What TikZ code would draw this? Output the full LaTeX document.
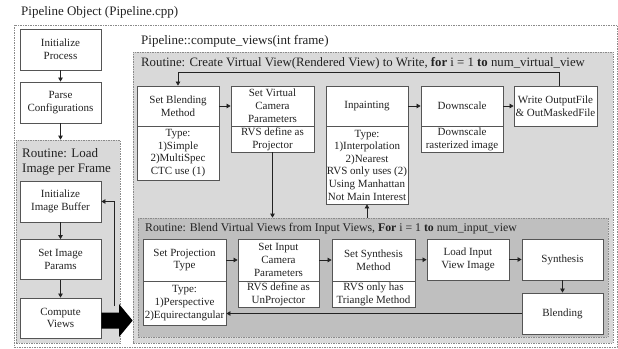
\documentclass[tikz,border=0pt]{standalone}
\usepackage{fontspec}
\setmainfont{Liberation Serif}
\usetikzlibrary{arrows.meta}
\definecolor{lgray}{HTML}{D9D9D9}
\definecolor{dgray}{HTML}{BFBFBF}
\definecolor{edge}{HTML}{555555}
\definecolor{txt}{HTML}{222222}
\definecolor{dash}{HTML}{8A8A8A}
\begin{document}
\begin{tikzpicture}[x=1pt,y=-1pt,
 box/.style={draw=edge, fill=white, line width=0.8pt, align=center, inner sep=1pt, font=\fontsize{11}{12.8}\selectfont, text=txt},
 routine/.style={draw=dash, dash pattern=on 1.5pt off 1pt, line width=0.7pt},
 ttl/.style={anchor=west, font=\fontsize{13}{15}\selectfont, text=txt, inner sep=0pt},
 arr/.style={draw=txt, line width=0.7pt, -{Triangle[length=4pt,width=4.5pt]}},
 ln/.style={draw=txt, line width=0.7pt}]
\useasboundingbox (0,0) rectangle (618,348);
% containers
\node[routine, fill=white, minimum width=603pt, minimum height=322pt, inner sep=0pt] (outer) at (315.5,186) {};
\node[routine, fill=lgray, minimum width=104pt, minimum height=203pt, inner sep=0pt] (loadr) at (68,241.5) {};
\node[routine, fill=lgray, minimum width=480pt, minimum height=291pt, inner sep=0pt] (createv) at (373,197.5) {};
\node[routine, fill=dgray, minimum width=470pt, minimum height=119pt, inner sep=0pt] (blendr) at (373,277.5) {};
% titles
\node[ttl] (t1) at (21,12) {Pipeline Object (Pipeline.cpp)};
\node[ttl] (t2) at (141,41) {Pipeline::compute\_views(int frame)};
\node[ttl, font=\fontsize{12.8}{15}\selectfont] (t3) at (141,63) {Routine: Create Virtual View(Rendered View) to Write, \textbf{for} i = 1 \textbf{to} num\_virtual\_view};
\node[ttl] (t4) at (22,153) {Routine: Load};
\node[ttl] (t5) at (22,170) {Image per Frame};
\node[ttl, font=\fontsize{11.8}{15}\selectfont] (t6) at (145,229) {Routine: Blend Virtual Views from Input Views, \textbf{For} i = 1 \textbf{to} num\_input\_view};
% left column
\node[box, minimum width=81pt, minimum height=41pt] (init) at (60.5,49.5) {Initialize\\Process};
\node[box, minimum width=81pt, minimum height=41pt] (parse) at (60.5,102.5) {Parse\\Configurations};
\node[box, minimum width=81pt, minimum height=41pt] (ibuf) at (60.5,201.5) {Initialize\\Image Buffer};
\node[box, minimum width=81pt, minimum height=40pt] (ipar) at (60.5,259.5) {Set Image\\Params};
\node[box, minimum width=81pt, minimum height=40pt] (cview) at (60.5,318) {Compute\\Views};
% upper row
\node[box, minimum width=82pt, minimum height=40pt] (blT) at (178,106) {Set Blending\\Method};
\node[box, minimum width=82pt, minimum height=54pt] (blB) at (178,153) {Type:\\1)Simple\\2)MultiSpec\\CTC use (1)};
\node[box, minimum width=83pt, minimum height=40pt] (vcT) at (272.5,106) {Set Virtual\\Camera\\Parameters};
\node[box, minimum width=83pt, minimum height=26pt] (vcB) at (272.5,139) {RVS define as\\Projector};
\node[box, minimum width=82pt, minimum height=40pt] (inT) at (367,106) {Inpainting};
\node[box, minimum width=82pt, minimum height=78pt, font=\fontsize{11}{12.6}\selectfont] (inB) at (367,165) {Type:\\1)Interpolation\\2)Nearest\\RVS only uses (2)\\Using Manhattan\\Not Main Interest};
\node[box, minimum width=82pt, minimum height=40pt] (dsT) at (462,106) {Downscale};
\node[box, minimum width=82pt, minimum height=26pt] (dsB) at (462,139) {Downscale\\rasterized image};
\node[box, minimum width=83pt, minimum height=40pt] (wr) at (555.5,106) {Write OutputFile\\\& OutMaskedFile};
% lower row
\node[box, minimum width=83pt, minimum height=42pt] (prT) at (184.5,260) {Set Projection\\Type};
\node[box, minimum width=83pt, minimum height=44pt] (prB) at (184.5,303) {Type:\\1)Perspective\\2)Equirectangular};
\node[box, minimum width=81pt, minimum height=42pt] (icT) at (278.5,260) {Set Input\\Camera\\Parameters};
\node[box, minimum width=81pt, minimum height=26pt] (icB) at (278.5,294) {RVS define as\\UnProjector};
\node[box, minimum width=83pt, minimum height=42pt] (smT) at (373.5,260) {Set Synthesis\\Method};
\node[box, minimum width=83pt, minimum height=26pt] (smB) at (373.5,294) {RVS only has\\Triangle Method};
\node[box, minimum width=82pt, minimum height=41pt] (li) at (468,259.5) {Load Input\\View Image};
\node[box, minimum width=81pt, minimum height=41pt] (sy) at (562.5,259.5) {Synthesis};
\node[box, minimum width=81pt, minimum height=41pt] (bl) at (562.5,313.5) {Blending};
% connectors left
\draw[arr] (init) -- (parse);
\draw[arr] (parse.south) -- (parse.south |- loadr.north);
\draw[arr] (ibuf) -- (ipar);
\draw[arr] (ipar) -- (cview);
\coordinate (fbB) at (114,306);
\coordinate (fbT) at (114,201.5);
\draw[arr] (fbB) -- (fbT) -- (ibuf.east);
% big arrow
\fill[black] (cview.east |- 0,312.5) -- (119,312.5) -- (119,304) -- (createv.west |- 0,320.5) -- (119,337) -- (119,328.5) -- (cview.east |- 0,328.5) -- cycle;
% connectors upper
\draw[arr] (blT) -- (vcT);
\draw[arr] (vcB.south) -- (vcB.south |- blendr.north);
\draw[arr] (inB.south |- blendr.north) -- (inB.south);
\draw[arr] (inT) -- (dsT);
\draw[arr] (dsT) -- (wr);
\coordinate (lpR) at (559,72);
\coordinate (lpL) at (178,72);
\draw[arr] (wr.north -| lpR) -- (lpR) -- (lpL) -- (blT.north);
% connectors lower
\draw[arr] (prT) -- (icT);
\draw[arr] (icT) -- (smT);
\draw[arr] (smT) -- (li);
\draw[arr] (li) -- (sy);
\draw[arr] (sy) -- (bl);
\draw[arr] (bl.west) -- (bl.west -| prB.east);
\end{tikzpicture}
\end{document}
